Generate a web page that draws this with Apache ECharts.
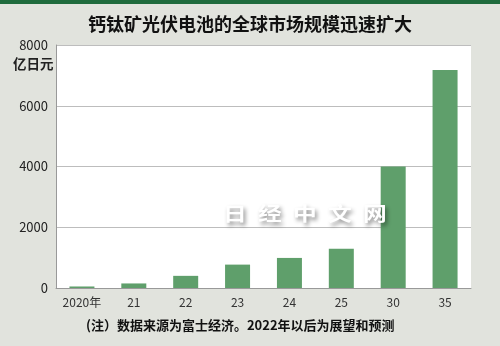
<!DOCTYPE html>
<html><head><meta charset="utf-8">
<script src="https://cdn.jsdelivr.net/npm/echarts@6/dist/echarts.min.js"></script>
<style>html,body{margin:0;padding:0;background:#e1e3dd}#c{width:500px;height:346px}</style>
</head><body><div id="c"></div>
<script>
const categories = ['2020年','21','22','23','24','25','30','35'];
const marketSize = [50, 150, 400, 770, 990, 1290, 4000, 7180];
const yTicks = [0, 2000, 4000, 6000, 8000];
const titleText = '钙钛矿光伏电池的全球市场规模迅速扩大';
const unitText = '亿日元';
const noteText = '(注）数据来源为富士经济。2022年以后为展望和预测';
const watermarkChars = ['日', '经', '中', '文', '网'];

const chart = echarts.init(document.getElementById('c'));
const font = '"Noto Sans CJK SC", "Noto Sans", sans-serif';
const wm = watermarkChars.map((ch, i) => ({
  type: 'text', left: 223 + i * 35, top: 204, z: 100,
  scaleX: 1.25,
  style: {text: ch, fontSize: 19, fontWeight: 'bold', fill: '#ffffff', fontFamily: font,
    textShadowColor: 'rgba(0,0,0,0.45)', textShadowBlur: 4, textShadowOffsetX: 2, textShadowOffsetY: 3}
}));
chart.setOption({
  backgroundColor: '#e1e3dd',
  animation: false,
  textStyle: {fontFamily: font},
  grid: {left: 56, right: 29, top: 45, bottom: 58, backgroundColor: '#fff', show: true, borderWidth: 0},
  title: {text: titleText, left: 'center', top: 10,
    textStyle: {fontSize: 18, fontWeight: 'bold', color: '#111', fontFamily: font}},
  graphic: [
    {type: 'rect', left: 0, top: 0, shape: {width: 500, height: 4}, style: {fill: '#1f6b3d'}},
    {type: 'text', left: 13, top: 57, style: {text: unitText, fontSize: 13.5, fontWeight: 'bold', fill: '#222', fontFamily: font}},
    {type: 'text', left: 86, top: 319, style: {text: noteText, fontSize: 13, fontWeight: 'bold', fill: '#111', fontFamily: font}}
  ].concat(wm),
  xAxis: {type: 'category', data: categories,
    axisLine: {lineStyle: {color: '#999'}}, axisTick: {show: false},
    axisLabel: {color: '#333', fontSize: 12, margin: 8}},
  yAxis: {type: 'value', min: yTicks[0], max: yTicks[yTicks.length-1], interval: 2000,
    axisLine: {show: true, lineStyle: {color: '#999'}}, axisTick: {show: false},
    splitLine: {lineStyle: {color: '#bdbdbd'}},
    axisLabel: {color: '#222', fontSize: 13, margin: 8, formatter: v => String(v)}},
  series: [{type: 'bar', data: marketSize, barWidth: 25,
    itemStyle: {color: '#5f9f6b'}}]
});
</script></body></html>
